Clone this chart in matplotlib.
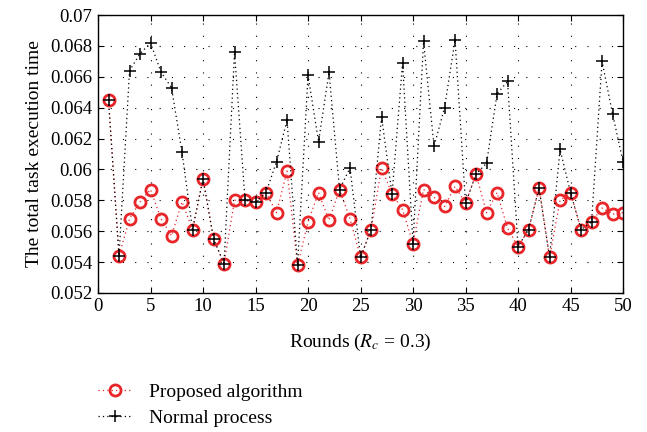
import matplotlib
matplotlib.use("Agg")
import matplotlib.pyplot as plt

# values
rounds = list(range(1, 51))

proposed = [0.0645, 0.0544, 0.0568, 0.0579, 0.0587, 0.0568, 0.0557, 0.0579, 0.0561, 0.0594,
            0.0555, 0.0539, 0.0580, 0.0580, 0.0579, 0.0585, 0.0572, 0.0599, 0.0538, 0.0566,
            0.0585, 0.0567, 0.0587, 0.0568, 0.0543, 0.0561, 0.0601, 0.0584, 0.0574, 0.0552,
            0.0587, 0.0582, 0.0576, 0.0589, 0.0578, 0.0597, 0.0572, 0.0585, 0.0562, 0.0550,
            0.0561, 0.0588, 0.0543, 0.0580, 0.0585, 0.0561, 0.0566, 0.0575, 0.0571, 0.0572]

normal = [0.0645, 0.0544, 0.0664, 0.0675, 0.0682, 0.0663, 0.0653, 0.0611, 0.0561, 0.0594,
          0.0555, 0.0539, 0.0676, 0.0580, 0.0579, 0.0585, 0.0605, 0.0632, 0.0538, 0.0661,
          0.0618, 0.0663, 0.0587, 0.0601, 0.0543, 0.0561, 0.0634, 0.0584, 0.0669, 0.0552,
          0.0683, 0.0615, 0.0640, 0.0684, 0.0578, 0.0597, 0.0604, 0.0649, 0.0657, 0.0550,
          0.0561, 0.0588, 0.0543, 0.0613, 0.0585, 0.0561, 0.0566, 0.0670, 0.0636, 0.0605]

xticks = list(range(0, 51, 5))
yticks = [0.052, 0.054, 0.056, 0.058, 0.06, 0.062, 0.064, 0.066, 0.068, 0.07]
ytick_labels = ["0.052", "0.054", "0.056", "0.058", "0.06", "0.062", "0.064", "0.066", "0.068", "0.07"]

plt.rcParams['font.family'] = ['Liberation Serif', 'DejaVu Serif']
plt.rcParams['mathtext.fontset'] = 'stix'
plt.rcParams['font.size'] = 13.5

fig = plt.figure(figsize=(6.47, 4.32), dpi=100)
ax = fig.add_axes([0.1515, 0.322, 0.8115, 0.643])

red = '#e8262a'
ax.plot(rounds, proposed, linestyle=(0, (1, 2.5)), color=red, linewidth=0.9,
        marker='o', markersize=8, markerfacecolor='none', markeredgecolor=red,
        markeredgewidth=2.0, label='Proposed algorithm')
ax.plot(rounds, normal, linestyle=(0, (1, 2.5)), color='black', linewidth=0.9,
        marker='+', markersize=9, markeredgewidth=1.1, label='Normal process')

ax.set_xlim(0, 50)
ax.set_ylim(0.052, 0.07)
ax.set_xticks(xticks)
ax.set_yticks(yticks)
ax.set_yticklabels(ytick_labels)
ax.tick_params(direction='in', top=True, right=True, length=4, width=0.8, pad=4)
ax.grid(True, color='black', linestyle=(0, (1, 10)), linewidth=0.8)
for sp in ax.spines.values():
    sp.set_linewidth(1.0)

ax.set_xlabel('Rounds ($R_c$ = 0.3)', fontsize=14, labelpad=12)
ax.set_ylabel('The total task execution time', fontsize=14, labelpad=5)

fig.legend(loc='upper left', bbox_to_anchor=(0.14, 0.13), frameon=False,
           fontsize=14, handlelength=1.7, labelspacing=0.4, handletextpad=0.9,
           borderaxespad=0)

fig.savefig('out.png', dpi=100)
